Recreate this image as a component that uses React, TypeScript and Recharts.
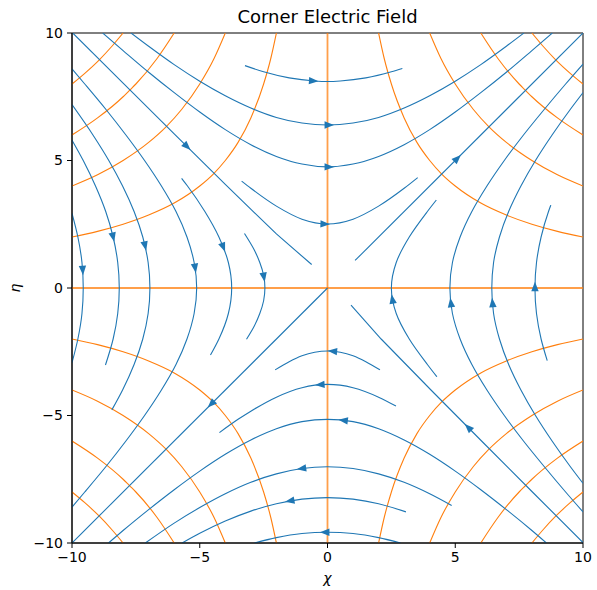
import React from 'react';
import { ComposedChart, Line, Scatter, XAxis, YAxis, ReferenceArea } from 'recharts';

type Pt = [number, number];

const chartTitle = 'Corner Electric Field';
const xLabel = 'χ';
const yLabel = 'η';
const xTicks = [-10, -5, 0, 5, 10];
const yTicks = [-10, -5, 0, 5, 10];

// ---- field lines (streamlines) opening up / down: read left -> right
const fieldTop1: Pt[] = [[-3.23, 8.72], [-2.5, 8.48], [-1.5, 8.24], [-0.5, 8.12], [0, 8.1], [0.5, 8.12], [1.5, 8.24], [2.5, 8.48], [2.93, 8.61]];
const fieldTop2: Pt[] = [[-7.69, 10], [-7, 9.48], [-6, 8.76], [-5, 8.11], [-4, 7.54], [-3, 7.06], [-2, 6.69], [-1, 6.47], [0, 6.39], [1, 6.47], [2, 6.69], [3, 7.06], [4, 7.54], [5, 8.11], [6, 8.76], [7, 9.48], [7.69, 10]];
const fieldTop3: Pt[] = [[-8.8, 10], [-8, 9.31], [-7, 8.46], [-6, 7.66], [-5, 6.9], [-4, 6.21], [-3, 5.62], [-2, 5.16], [-1, 4.86], [0, 4.75], [1, 4.86], [2, 5.16], [3, 5.62], [4, 6.21], [5, 6.9], [6, 7.66], [7, 8.46], [8, 9.31], [8.8, 10]];
const fieldTop4: Pt[] = [[-3.36, 4.19], [-3, 3.91], [-2, 3.21], [-1, 2.7], [0, 2.51], [1, 2.7], [2, 3.21], [3, 3.91], [3.53, 4.33]];
const fieldBot1: Pt[] = [[-2.05, -3.21], [-1.5, -2.89], [-1, -2.66], [-0.5, -2.52], [0, -2.47], [0.5, -2.52], [1, -2.66], [1.5, -2.89], [2.05, -3.21]];
const fieldBot2: Pt[] = [[-4.23, -5.67], [-3.5, -5.15], [-3, -4.83], [-2, -4.28], [-1, -3.91], [0, -3.78], [1, -3.91], [2, -4.28], [2.68, -4.63]];
const fieldBot3: Pt[] = [[-8.57, -10], [-8, -9.51], [-7, -8.69], [-6, -7.91], [-5, -7.18], [-4, -6.52], [-3, -5.96], [-2, -5.52], [-1, -5.24], [0, -5.15], [1, -5.24], [2, -5.52], [3, -5.96], [4, -6.52], [5, -7.18], [6, -7.91], [7, -8.69], [8, -9.51], [8.57, -10]];
const fieldBot4: Pt[] = [[-7.13, -10], [-6, -9.22], [-5, -8.61], [-4, -8.07], [-3, -7.62], [-2, -7.29], [-1, -7.08], [0, -7.01], [1, -7.08], [2, -7.29], [3, -7.62], [4, -8.07], [4.86, -8.53]];
const fieldBot5: Pt[] = [[-5.69, -10], [-5, -9.62], [-4, -9.14], [-3, -8.75], [-2, -8.46], [-1, -8.28], [0, -8.22], [1, -8.28], [2, -8.46], [3.07, -8.78]];
const fieldBot6: Pt[] = [[-2.86, -10], [-2, -9.79], [-1, -9.63], [0, -9.58], [1, -9.63], [2, -9.79], [2.86, -10]];

// ---- field lines opening left / right: read top -> bottom
const fieldLeft1: Pt[] = [[-10, 2.93], [-9.77, 2], [-9.61, 1], [-9.56, 0], [-9.61, -1], [-9.77, -2], [-10, -2.93]];
const fieldLeft2: Pt[] = [[-10, 5.8], [-9.56, 5], [-9.08, 4], [-8.68, 3], [-8.39, 2], [-8.21, 1], [-8.15, 0], [-8.21, -1], [-8.39, -2], [-8.69, -3.02]];
const fieldLeft3: Pt[] = [[-10, 7.19], [-9.18, 6], [-8.56, 5], [-8.02, 4], [-7.57, 3], [-7.23, 2], [-7.02, 1], [-6.95, 0], [-7.02, -1], [-7.23, -2], [-7.57, -3], [-8.02, -4], [-8.44, -4.78]];
const fieldLeft4: Pt[] = [[-10, 8.59], [-9.5, 8], [-8.67, 7], [-7.89, 6], [-7.16, 5], [-6.5, 4], [-5.93, 3], [-5.5, 2], [-5.22, 1], [-5.12, 0], [-5.22, -1], [-5.5, -2], [-5.93, -3], [-6.5, -4], [-7.16, -5], [-7.89, -6], [-8.67, -7], [-9.5, -8], [-10, -8.59]];
const fieldLeft5: Pt[] = [[-5.71, 4.3], [-5.48, 4], [-4.8, 3], [-4.25, 2], [-3.88, 1], [-3.75, 0], [-3.88, -1], [-4.25, -2], [-4.58, -2.63]];
const fieldLeft6: Pt[] = [[-3.25, 2.14], [-2.87, 1.5], [-2.65, 1], [-2.5, 0.5], [-2.45, 0], [-2.5, -0.5], [-2.65, -1], [-2.87, -1.5], [-3.17, -2.01]];
const fieldRight1: Pt[] = [[4.26, 3.45], [3.91, 3], [3.2, 2], [2.69, 1], [2.5, 0], [2.69, -1], [3.2, -2], [3.91, -3], [4.28, -3.48]];
const fieldRight2: Pt[] = [[10, 8.78], [9.32, 8], [8.48, 7], [7.67, 6], [6.92, 5], [6.24, 4], [5.65, 3], [5.19, 2], [4.89, 1], [4.79, 0], [4.89, -1], [5.19, -2], [5.65, -3], [6.24, -4], [6.92, -5], [7.67, -6], [8.48, -7], [9.32, -8], [10, -8.78]];
const fieldRight3: Pt[] = [[10, 7.66], [9.5, 7], [8.79, 6], [8.14, 5], [7.57, 4], [7.09, 3], [6.73, 2], [6.5, 1], [6.43, 0], [6.5, -1], [6.73, -2], [7.09, -3], [7.57, -4], [8.14, -5], [8.79, -6], [9.5, -7], [10, -7.66]];
const fieldRight4: Pt[] = [[8.74, 3.25], [8.65, 3], [8.36, 2], [8.18, 1], [8.12, 0], [8.18, -1], [8.36, -2], [8.6, -2.85]];

// ---- near-diagonal field lines
const fieldDiagTL: Pt[] = [[-9.97, 10], [-8, 8.03], [-6, 6.04], [-4, 4.06], [-2, 2.12], [-0.62, 0.92]];
const fieldDiagTR: Pt[] = [[1.08, 1.08], [10, 10]];
const fieldDiagBL: Pt[] = [[0, 0], [-10, -10]];
const fieldDiagBR: Pt[] = [[0.92, -0.67], [2.1, -2], [4.05, -4], [6.03, -6], [8.02, -8], [10, -9.98]];

// ---- equipotentials (x increasing)
const eqTL20: Pt[] = [[-10, 2], [-9, 2.22], [-8, 2.5], [-7, 2.86], [-6, 3.33], [-5, 4], [-4.47, 4.47], [-4, 5], [-3.5, 5.71], [-3, 6.67], [-2.5, 8], [-2.22, 9], [-2, 10]];
const eqTL40: Pt[] = [[-10, 4], [-9, 4.44], [-8, 5], [-7, 5.71], [-6.32, 6.32], [-5.71, 7], [-5, 8], [-4.44, 9], [-4, 10]];
const eqTL60: Pt[] = [[-10, 6], [-9, 6.67], [-8, 7.5], [-7.75, 7.75], [-7.5, 8], [-6.67, 9], [-6, 10]];
const eqTL80: Pt[] = [[-10, 8], [-9.5, 8.42], [-8.94, 8.94], [-8.42, 9.5], [-8, 10]];
const eqTR20: Pt[] = [[2, 10], [2.22, 9], [2.5, 8], [3, 6.67], [3.5, 5.71], [4, 5], [4.47, 4.47], [5, 4], [6, 3.33], [7, 2.86], [8, 2.5], [9, 2.22], [10, 2]];
const eqTR40: Pt[] = [[4, 10], [4.44, 9], [5, 8], [5.71, 7], [6.32, 6.32], [7, 5.71], [8, 5], [9, 4.44], [10, 4]];
const eqTR60: Pt[] = [[6, 10], [6.67, 9], [7.5, 8], [7.75, 7.75], [8, 7.5], [9, 6.67], [10, 6]];
const eqTR80: Pt[] = [[8, 10], [8.42, 9.5], [8.94, 8.94], [9.5, 8.42], [10, 8]];
const eqBL20: Pt[] = [[-10, -2], [-9, -2.22], [-8, -2.5], [-7, -2.86], [-6, -3.33], [-5, -4], [-4.47, -4.47], [-4, -5], [-3.5, -5.71], [-3, -6.67], [-2.5, -8], [-2.22, -9], [-2, -10]];
const eqBL40: Pt[] = [[-10, -4], [-9, -4.44], [-8, -5], [-7, -5.71], [-6.32, -6.32], [-5.71, -7], [-5, -8], [-4.44, -9], [-4, -10]];
const eqBL60: Pt[] = [[-10, -6], [-9, -6.67], [-8, -7.5], [-7.75, -7.75], [-7.5, -8], [-6.67, -9], [-6, -10]];
const eqBL80: Pt[] = [[-10, -8], [-9.5, -8.42], [-8.94, -8.94], [-8.42, -9.5], [-8, -10]];
const eqBR20: Pt[] = [[2, -10], [2.22, -9], [2.5, -8], [3, -6.67], [3.5, -5.71], [4, -5], [4.47, -4.47], [5, -4], [6, -3.33], [7, -2.86], [8, -2.5], [9, -2.22], [10, -2]];
const eqBR40: Pt[] = [[4, -10], [4.44, -9], [5, -8], [5.71, -7], [6.32, -6.32], [7, -5.71], [8, -5], [9, -4.44], [10, -4]];
const eqBR60: Pt[] = [[6, -10], [6.67, -9], [7.5, -8], [7.75, -7.75], [8, -7.5], [9, -6.67], [10, -6]];
const eqBR80: Pt[] = [[8, -10], [8.42, -9.5], [8.94, -8.94], [9.5, -8.42], [10, -8]];
const eqZeroH: Pt[] = [[-10, 0], [10, 0]];
const eqZeroV: Pt[] = [[0, -10], [0, 10]];

// ---- arrow heads: position and screen angle (deg, 0 = right, clockwise)
const arrowX = [-0.55, 0.06, 0.06, -0.1, 0.2, -0.29, 0.62, -1.01, -1.47, -0.1, -9.58, -8.39, -7.14, -5.18, -4.08, -2.49, 2.54, 4.83, 6.46, 8.12, -5.5, 5.08, -4.55, 5.51];
const arrowY = [8.12, 6.39, 4.75, 2.51, -2.48, -3.79, -5.19, -7.08, -8.35, -9.58, 0.7, 2.0, 1.65, 0.78, 1.6, 0.43, -0.44, -0.58, -0.58, 0.05, 5.55, 5.08, -4.55, -5.47];
const arrowAngle = [4, 0, 0, 2, 185, 176, 187, 172, 170, 180, 86, 77, 77, 81, 69, 80, 260, 263, 265, 270, 45, 315, 135, 225];

const BLUE = '#1f77b4';
const ORANGE = '#ff7f0e';
const FONT = '"DejaVu Sans", Verdana, sans-serif';

const toRows = (pts: Pt[]) => pts.map(([x, y]) => ({ x, y }));

const curvesX = [fieldTop1, fieldTop2, fieldTop3, fieldTop4, fieldBot1, fieldBot2, fieldBot3, fieldBot4, fieldBot5, fieldBot6];
const curvesY = [fieldLeft1, fieldLeft2, fieldLeft3, fieldLeft4, fieldLeft5, fieldLeft6, fieldRight1, fieldRight2, fieldRight3, fieldRight4];
const curvesDiag = [fieldDiagTL, fieldDiagTR, fieldDiagBL, fieldDiagBR];
const equip = [eqTL20, eqTL40, eqTL60, eqTL80, eqTR20, eqTR40, eqTR60, eqTR80, eqBL20, eqBL40, eqBL60, eqBL80, eqBR20, eqBR40, eqBR60, eqBR80];
const arrowRows = arrowX.map((x, i) => ({ x, y: arrowY[i], angle: arrowAngle[i] }));

const fmt = (v: number) => String(v).replace('-', '\u2212');

const ArrowHead = (props: any) => {
  const { cx, cy, payload } = props;
  if (cx == null || cy == null) return null;
  return (
    <polygon
      points="5,0 -4.5,-3.7 -4.5,3.7"
      transform={`translate(${cx},${cy}) rotate(${payload.angle})`}
      fill={BLUE}
      stroke="none"
    />
  );
};

export default function App() {
  const tickStyle = { fontSize: 14, fill: '#000', fontFamily: FONT };
  return (
    <div style={{ position: 'absolute', left: 0, top: 0, width: 597, height: 590, background: '#fff' }}>
      <div style={{ position: 'absolute', left: 72, top: 6, width: 511, textAlign: 'center', fontFamily: FONT, fontSize: 18, lineHeight: '22px', color: '#000' }}>
        {chartTitle}
      </div>
      <div style={{ position: 'absolute', left: 72, top: 569, width: 511, textAlign: 'center', fontFamily: FONT, fontSize: 14, fontStyle: 'italic', lineHeight: '18px', color: '#000' }}>
        {xLabel}
      </div>
      <div style={{ position: 'absolute', left: 6, top: 279, width: 18, height: 18, fontFamily: FONT, fontSize: 14, fontStyle: 'italic', lineHeight: '18px', textAlign: 'center', transform: 'rotate(-90deg)', color: '#000' }}>
        {yLabel}
      </div>
      <ComposedChart width={597} height={590} margin={{ top: 33, right: 14, bottom: 17, left: 22 }}>
        <XAxis
          type="number"
          dataKey="x"
          domain={[-10, 10]}
          ticks={xTicks}
          allowDataOverflow
          height={30}
          tickSize={5}
          tickMargin={4}
          tickFormatter={fmt}
          tick={tickStyle}
          axisLine={{ stroke: '#000', strokeWidth: 1 }}
          tickLine={{ stroke: '#000', strokeWidth: 1 }}
        />
        <YAxis
          type="number"
          dataKey="y"
          domain={[-10, 10]}
          ticks={yTicks}
          allowDataOverflow
          width={50}
          tickSize={5}
          tickMargin={4}
          tickFormatter={fmt}
          tick={tickStyle}
          axisLine={{ stroke: '#000', strokeWidth: 1 }}
          tickLine={{ stroke: '#000', strokeWidth: 1 }}
        />
        {equip.map((c, i) => (
          <Line key={`eq${i}`} data={toRows(c)} dataKey="y" type="monotoneX" stroke={ORANGE} strokeWidth={1.1} dot={false} activeDot={false} isAnimationActive={false} />
        ))}
        <Line data={toRows(eqZeroH)} dataKey="y" type="linear" stroke={ORANGE} strokeOpacity={0.75} strokeWidth={1.8} dot={false} activeDot={false} isAnimationActive={false} />
        <Line data={toRows(eqZeroV)} dataKey="y" type="linear" stroke={ORANGE} strokeOpacity={0.75} strokeWidth={1.8} dot={false} activeDot={false} isAnimationActive={false} />
        {curvesX.map((c, i) => (
          <Line key={`fx${i}`} data={toRows(c)} dataKey="y" type="monotoneX" stroke={BLUE} strokeWidth={1.1} dot={false} activeDot={false} isAnimationActive={false} />
        ))}
        {curvesY.map((c, i) => (
          <Line key={`fy${i}`} data={toRows(c)} dataKey="y" type="monotoneY" stroke={BLUE} strokeWidth={1.1} dot={false} activeDot={false} isAnimationActive={false} />
        ))}
        {curvesDiag.map((c, i) => (
          <Line key={`fd${i}`} data={toRows(c)} dataKey="y" type="linear" stroke={BLUE} strokeWidth={1.1} dot={false} activeDot={false} isAnimationActive={false} />
        ))}
        <Scatter data={arrowRows} dataKey="y" shape={ArrowHead} isAnimationActive={false} />
        <ReferenceArea x1={-10} x2={10} y1={-10} y2={10} fill="none" fillOpacity={0} stroke="#000" strokeWidth={1} strokeOpacity={1} />
      </ComposedChart>
    </div>
  );
}
